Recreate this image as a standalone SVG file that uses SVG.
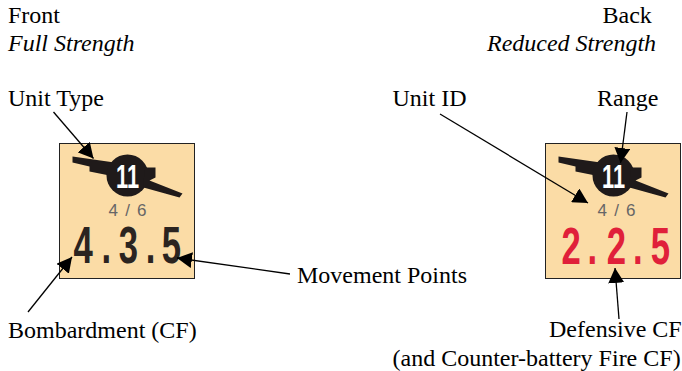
<svg xmlns="http://www.w3.org/2000/svg" width="682" height="371" viewBox="0 0 682 371">
<style>
.t{font-family:"Liberation Serif","Times New Roman",serif;font-size:24px;fill:#000}
.i{font-style:italic}
.c{stroke:#000;stroke-width:1.3;fill:none;marker-end:url(#a)}
.card{fill:#fbdca6;stroke:#222;stroke-width:1}
.sans{font-family:"Liberation Sans",Arial,sans-serif;text-anchor:middle}
.id{font-size:17px;fill:#666}
.big{font-size:51px;font-weight:700}
</style>
<defs>
<marker id="a" markerUnits="userSpaceOnUse" markerWidth="16" markerHeight="16" refX="15" refY="8" orient="auto"><path d="M0 0L15 8L0 16Z" fill="#000"/></marker>
<g id="gun">
<path d="M13 13L55 19L55 30L50 32L30 28L30 23L13 19Z" fill="#1f1a1a"/>
<circle cx="68" cy="32" r="21" fill="#1f1a1a"/>
<path d="M85 24L96 24L96 34L90 37L123 50L120 54L84 44Z" fill="#1f1a1a"/>
<g transform="translate(68 44.5) scale(.66 1)"><text class="sans" font-size="33" font-weight="700" fill="#fff">11</text></g>
</g>
</defs>
<g id="front-card" transform="translate(59.5 143.5)">
<rect class="card" width="135" height="135"/>
<use href="#gun"/>
<text class="sans id" x="68" y="72.5" textLength="38">4 / 6</text>
<g transform="scale(.68 1)"><text class="sans big" fill="#2b2420" x="34.9 68.7 101.5 133.8 164.7" y="120">4.3.5</text></g>
</g>
<g id="back-card" transform="translate(545.5 143.5)">
<rect class="card" width="135" height="135"/>
<use href="#gun"/>
<text class="sans id" x="71" y="72.5" textLength="38">4 / 6</text>
<g transform="scale(.68 1)"><text class="sans big" fill="#e0203a" x="37.8 68.7 104.4 135.7 169" y="121">2.2.5</text></g>
</g>
<g id="connectors">
<path class="c" d="M53.5 112L93.5 158.5"/>
<path class="c" d="M28 312L72 257"/>
<path class="c" d="M290 274L177 258"/>
<path class="c" d="M440 114L588 203"/>
<path class="c" d="M627 112L620.5 163"/>
<path class="c" d="M619 319L615 268"/>
</g>
<g id="labels">
<text class="t" x="8" y="23">Front</text>
<text class="t i" x="8" y="51">Full Strength</text>
<text class="t" x="602.5" y="23">Back</text>
<text class="t i" x="487" y="51">Reduced Strength</text>
<text class="t" x="8" y="106">Unit Type</text>
<text class="t" x="392.5" y="106">Unit ID</text>
<text class="t" x="597" y="106">Range</text>
<text class="t" x="297" y="283">Movement Points</text>
<text class="t" x="8" y="338">Bombardment (CF)</text>
<text class="t" x="549" y="337">Defensive CF</text>
<text class="t" x="392.5" y="366">(and Counter-battery Fire CF)</text>
</g>
</svg>
